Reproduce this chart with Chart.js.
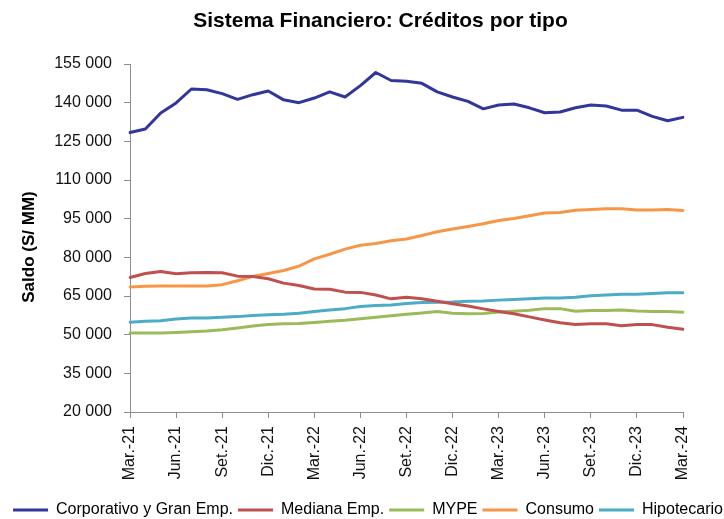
<!DOCTYPE html>
<html>
<head>
<meta charset="utf-8">
<script src="https://cdn.jsdelivr.net/npm/chart.js@4/dist/chart.umd.min.js"></script>
<style>
  html, body { margin: 0; padding: 0; background: #fff; }
  #wrap { position: relative; width: 724px; height: 519px; }
</style>
</head>
<body>
<div id="wrap"><canvas id="c" width="724" height="519"></canvas></div>
<script>
const chartTitle = 'Sistema Financiero: Créditos por tipo';
const yTitle = 'Saldo (S/ MM)';

const months = [
  'Mar.-21','Abr.-21','May.-21','Jun.-21','Jul.-21','Ago.-21','Set.-21','Oct.-21','Nov.-21','Dic.-21',
  'Ene.-22','Feb.-22','Mar.-22','Abr.-22','May.-22','Jun.-22','Jul.-22','Ago.-22','Set.-22','Oct.-22','Nov.-22','Dic.-22',
  'Ene.-23','Feb.-23','Mar.-23','Abr.-23','May.-23','Jun.-23','Jul.-23','Ago.-23','Set.-23','Oct.-23','Nov.-23','Dic.-23',
  'Ene.-24','Feb.-24','Mar.-24'
];

const corporativo = [128400,129800,136000,139900,145300,145000,143500,141300,143100,144500,
  141100,140000,141800,144200,142200,146600,151700,148600,148300,147500,144200,142200,
  140500,137600,139100,139500,138000,136100,136400,138000,139100,138700,137100,137100,
  134700,133000,134300];
const mediana = [72200,73700,74500,73600,74000,74100,74000,72700,72600,71700,
  70000,69100,67700,67600,66500,66400,65400,63900,64500,63900,63000,62000,
  61100,60000,59000,58100,56900,55700,54600,53900,54200,54200,53500,53900,
  53900,52900,52100];
const mype = [50600,50600,50600,50800,51100,51400,51900,52600,53400,53900,
  54200,54300,54700,55200,55600,56200,56800,57300,57900,58400,59000,58300,
  58100,58200,58800,59100,59500,60100,60100,59100,59400,59400,59600,59200,
  59000,59000,58700];
const consumo = [68500,68800,68900,68900,68900,68900,69400,70900,72600,73700,
  74900,76600,79400,81200,83200,84700,85400,86400,87100,88500,89900,91000,
  92000,93000,94300,95100,96100,97200,97400,98300,98600,98800,98800,98400,
  98400,98600,98200];
const hipotecario = [54800,55200,55400,56100,56500,56500,56800,57000,57400,57700,
  57900,58300,59000,59600,60100,60900,61300,61500,62100,62500,62600,62700,
  63000,63100,63400,63600,63900,64200,64200,64500,65100,65400,65700,65700,
  66000,66300,66300];

const seriesNames = ['Corporativo y Gran Emp.','Mediana Emp.','MYPE','Consumo','Hipotecario'];
const seriesColors = ['#32359B','#C0504D','#9BBB59','#F79646','#4BACC6'];
const seriesData = [corporativo, mediana, mype, consumo, hipotecario];

const yMin = 20000, yMax = 155000, yStep = 15000;

const FONT = '"Liberation Sans", Arial, Helvetica, sans-serif';
const AXIS = '#8c8c8c';

const fmt = v => String(v).replace(/\B(?=(\d{3})+(?!\d))/g, ' ');

const titlesPlugin = {
  id: 'customTitles',
  afterLayout(chart) {
    const lg = chart.legend;
    lg.top += 9; lg.bottom += 9;
    lg.left += 6; lg.right += 6;
  },
  afterDraw(chart) {
    const ctx = chart.ctx;
    ctx.save();
    ctx.fillStyle = '#000';
    ctx.textAlign = 'center';
    ctx.textBaseline = 'middle';
    ctx.font = 'bold 21px ' + FONT;
    ctx.fillText(chartTitle, 380.5, 21);
    ctx.translate(29, 247);
    ctx.rotate(-Math.PI / 2);
    ctx.font = 'bold 17px ' + FONT;
    ctx.fillText(yTitle, 0, 0);
    ctx.restore();
  }
};

new Chart(document.getElementById('c'), {
  type: 'line',
  data: {
    labels: months,
    datasets: seriesNames.map((n, i) => ({
      label: n,
      data: seriesData[i],
      borderColor: seriesColors[i],
      backgroundColor: seriesColors[i],
      borderWidth: 3,
      pointRadius: 0,
      pointHoverRadius: 0,
      tension: 0,
      borderJoinStyle: 'round',
      borderCapStyle: 'round',
      fill: false
    }))
  },
  options: {
    responsive: false,
    animation: false,
    devicePixelRatio: 1,
    layout: { padding: { left: 0, right: 0, top: 64, bottom: 0 } },
    plugins: {
      title: { display: false },
      tooltip: { enabled: false },
      legend: {
        display: true,
        position: 'bottom',
        labels: {
          usePointStyle: true,
          pointStyle: 'line',
          pointStyleWidth: 35,
          boxHeight: 16,
          padding: 5,
          color: '#000',
          font: { family: FONT, size: 16 }
        }
      }
    },
    scales: {
      x: {
        type: 'category',
        offset: false,
        grid: { display: true, drawOnChartArea: false, drawTicks: true, tickLength: 6, color: AXIS, lineWidth: 1 },
        border: { display: true, color: AXIS, width: 1 },
        ticks: {
          autoSkip: false,
          minRotation: 90,
          maxRotation: 90,
          padding: 8,
          color: '#111',
          font: { family: FONT, size: 16 },
          callback: function (v, i) { return i % 3 === 0 ? months[i] : null; }
        },
        afterFit: s => { s.height = 76; }
      },
      y: {
        position: 'left',
        min: yMin,
        max: yMax,
        grid: { display: true, drawOnChartArea: false, drawTicks: true, tickLength: 6, color: AXIS, lineWidth: 1 },
        border: { display: true, color: AXIS, width: 1 },
        ticks: {
          stepSize: yStep,
          padding: 12,
          color: '#111',
          font: { family: FONT, size: 16 },
          callback: v => fmt(v)
        },
        afterFit: s => { s.width = 130; }
      },
      yR: {
        position: 'right',
        display: true,
        grid: { display: false, drawTicks: false },
        border: { display: false },
        ticks: { display: false },
        afterFit: s => { s.width = 41; }
      }
    }
  },
  plugins: [titlesPlugin]
});
</script>
</body>
</html>
